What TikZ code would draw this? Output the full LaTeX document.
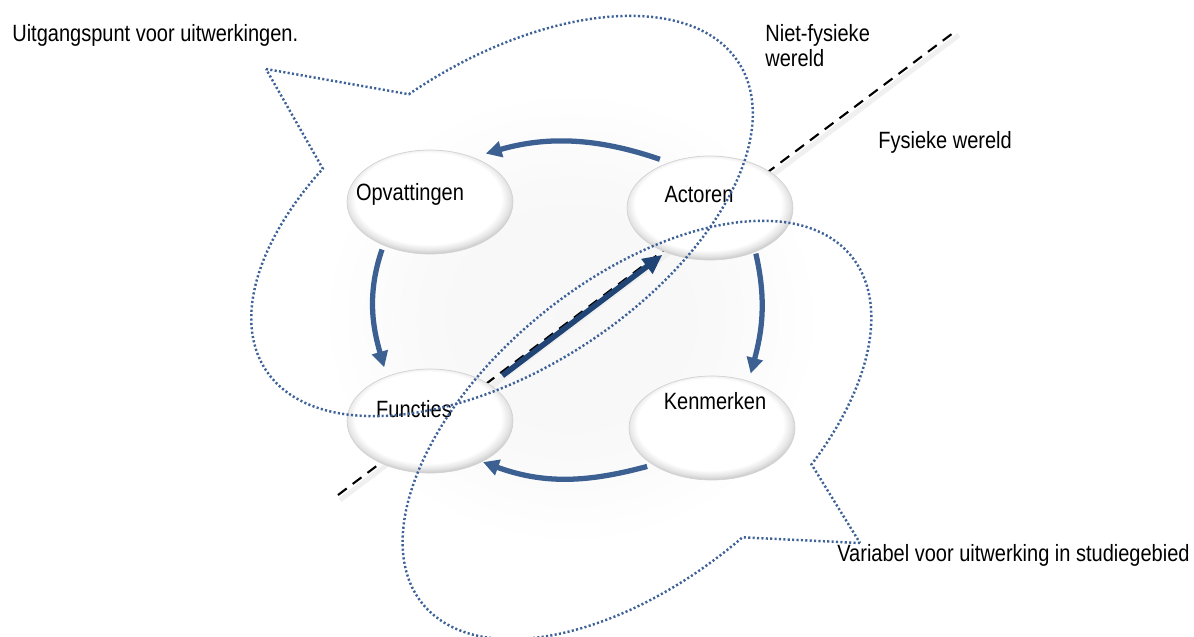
\documentclass[tikz,border=0pt]{standalone}
\usepackage{fontspec}
\setmainfont{Liberation Sans}[FakeStretch=0.85]
\usetikzlibrary{arrows.meta}
\usetikzlibrary{shapes.geometric}

\definecolor{cyclink}{RGB}{60,96,145}
\definecolor{crosslink}{RGB}{33,68,118}
\definecolor{calloutblue}{RGB}{62,98,152}

\pgfdeclareradialshading{bevel}{\pgfpoint{-1bp}{3bp}}{color(0bp)=(white); color(22bp)=(white); color(24.5bp)=(gray!20); color(27bp)=(gray!50); color(29bp)=(gray!72); color(30.5bp)=(gray!55); color(50bp)=(white)}
\pgfdeclareradialshading{glow}{\pgfpointorigin}{color(0bp)=(gray!6); color(14bp)=(gray!5); color(25bp)=(white); color(50bp)=(white)}

\begin{document}
\begin{tikzpicture}[x=0.02cm, y=-0.02cm, >={Triangle[length=9pt,width=9pt]},
	every node/.style={inner sep=0pt, text=black, font=\fontsize{13.4}{14.2}\selectfont},
	bubble/.style={ellipse, minimum width=3.32cm, minimum height=2.08cm, shading=bevel, draw=gray!35, line width=0.4pt},
	cyc/.style={->, draw=cyclink, line width=3pt},
	calloutline/.style={draw=calloutblue, line width=1.4pt, dash pattern=on 1.2pt off 1.3pt}]
	\useasboundingbox (0,0) rectangle (1194,636);
	%Glow
	\shade[shading=glow] (571,318) ellipse (250 and 228);
	%Divider
	\coordinate (divlow) at (338,495);
	\coordinate (divhigh) at (957,30);
	\draw[gray!12, line width=2.8pt] ([shift={(2,5)}]divlow) -- ([shift={(2,5)}]divhigh);
	\draw[black, line width=1.2pt, dash pattern=on 6.2pt off 4.3pt] (divlow) -- (divhigh);
	%Concepts
	\node[bubble] (opv) at (430,202) {};
	\node[bubble] (act) at (710,208) {};
	\node[bubble] (fun) at (430,421) {};
	\node[bubble] (ken) at (712,428) {};
	\node[anchor=base] (opvtext) at (410,200) {Opvattingen};
	\node[anchor=base] (acttext) at (699,202) {Actoren};
	\node[anchor=base] (funtext) at (414,417) {Functies};
	\node[anchor=base] (kentext) at (715,409) {Kenmerken};
	%Cycle
	\draw[cyc, shorten <=5.5pt, shorten >=7.5pt] (act.132) to[out=161, in=16] (opv.46);
	\draw[cyc, shorten <=2.5pt, shorten >=5.3pt] (opv.223) to[out=251, in=106] (fun.134);
	\draw[cyc, shorten <=1pt, shorten >=4.4pt] (act.316) to[out=283, in=75] (ken.52);
	\draw[cyc, shorten <=3.4pt, shorten >=0.5pt] (ken.212) to[out=195, in=340] (fun.322);
	\draw[->, draw=crosslink, line width=3.2pt, >={Triangle[length=11pt,width=10pt]}, shorten <=8.7pt, shorten >=2.4pt] (fun.31) -- (act.225);
	%Callouts
	\coordinate (tipstart) at (266,69);
	\coordinate (tipvar) at (860,543);
	\begin{scope}[shift={(502,216)}, rotate=33]
		\draw[calloutline] (tipstart) -- (267.6:282 and 153) arc[start angle=267.6, end angle=603.8, x radius=282, y radius=153] -- cycle;
	\end{scope}
	\begin{scope}[shift={(637,430)}, rotate=39]
		\draw[calloutline] (tipvar) -- (87:276 and 150) arc[start angle=87, end angle=425.6, x radius=276, y radius=150] -- cycle;
	\end{scope}
	%Texts
	\node[anchor=base west] (origin) at (12,41) {Uitgangspunt voor uitwerkingen.};
	\node[anchor=north west, align=left] (nonphys) at (765,24) {Niet-fysieke\\wereld};
	\node[anchor=base west] (phys) at (878,148) {Fysieke wereld};
	\node[anchor=base west] (variable) at (837,561) {Variabel voor uitwerking in studiegebied};
\end{tikzpicture}
\end{document}
